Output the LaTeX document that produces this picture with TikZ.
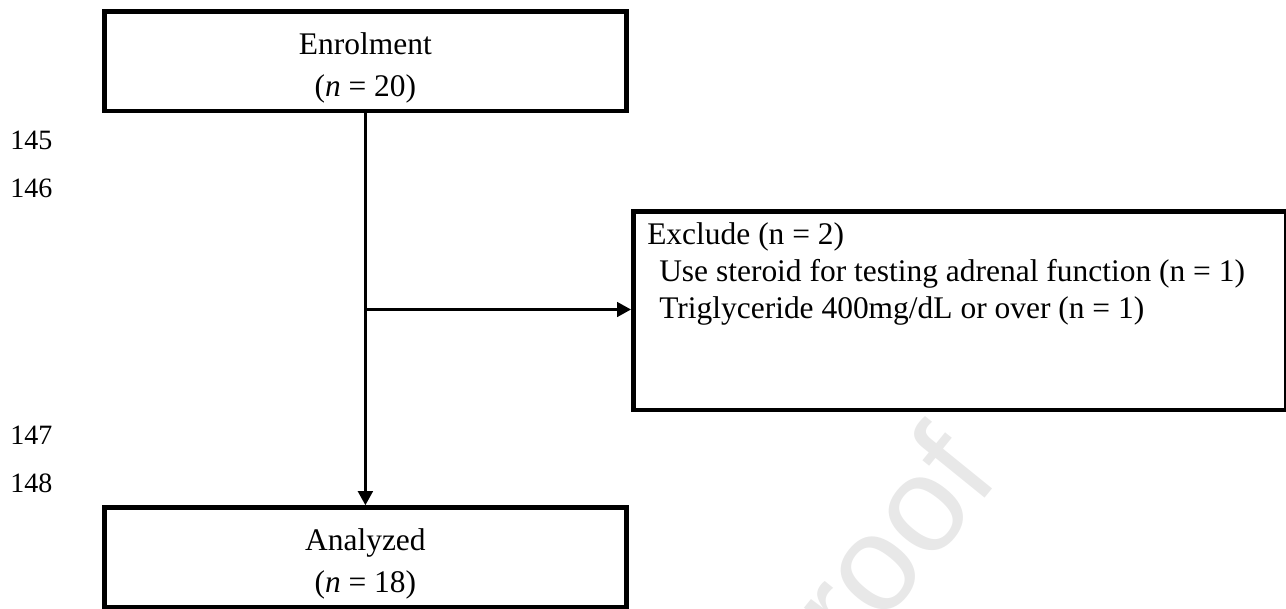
\documentclass[tikz,border=0pt]{standalone}
\usepackage{fontspec}
\setmainfont{Liberation Serif}
\newfontfamily\wmfont{Liberation Sans}
\usetikzlibrary{arrows.meta}
\tikzset{
  box/.style={draw=black, line width=3.5pt, minimum width=391.6pt, inner sep=0pt},
  boxtext/.style={font=\fontsize{23.6}{28}\selectfont, inner sep=0pt, anchor=base},
  linetext/.style={font=\fontsize{23.6}{28}\selectfont, inner sep=0pt, anchor=base west},
  linenum/.style={font=\fontsize{21}{24}\selectfont, inner sep=0pt, anchor=base west},
  conn/.style={line width=2pt, -{Triangle[width=11pt,length=10.5pt]}},
}
\begin{document}
\begin{tikzpicture}[x=0.75pt,y=-0.75pt]
\useasboundingbox (0,0) rectangle (1286,608);
% watermark
\node[font=\wmfont\fontsize{102}{105}\selectfont, text=black!9, rotate=51, anchor=base east, inner sep=0pt] (wm) at (1002,478) {Journal Pre-proof};
% boxes
\node[box, minimum height=74.8pt] (enrol) at (365.4,61.2) {};
\node[box, minimum height=74.8pt] (anal) at (365.4,557.4) {};
\node[box, minimum width=489.7pt, minimum height=148.7pt] (excl) at (959.8,310.8) {};
% texts
\node[boxtext] (t1) at (365.4,54) {Enrolment};
\node[boxtext] (t2) at (365.4,96) {(\textit{n} = 20)};
\node[boxtext] (t3) at (365.4,550) {Analyzed};
\node[boxtext] (t4) at (365.4,592) {(\textit{n} = 18)};
\node[linetext] (e1) at (647,244) {Exclude (n = 2)};
\node[linetext] (e2) at (659,281) {Use steroid for testing adrenal function (n = 1)};
\node[linetext] (e3) at (659,318) {Triglyceride 400mg/dL or over (n = 1)};
% line numbers
\node[linenum] (n145) at (10,149) {145};
\node[linenum] (n146) at (10,197) {146};
\node[linenum] (n147) at (10,444) {147};
\node[linenum] (n148) at (10,492) {148};
% connectors
\coordinate (branch) at (365.4,309.5);
\draw[conn] (enrol.south) -- (anal.north);
\draw[conn] (branch) -- (branch -| excl.west);
\end{tikzpicture}
\end{document}
